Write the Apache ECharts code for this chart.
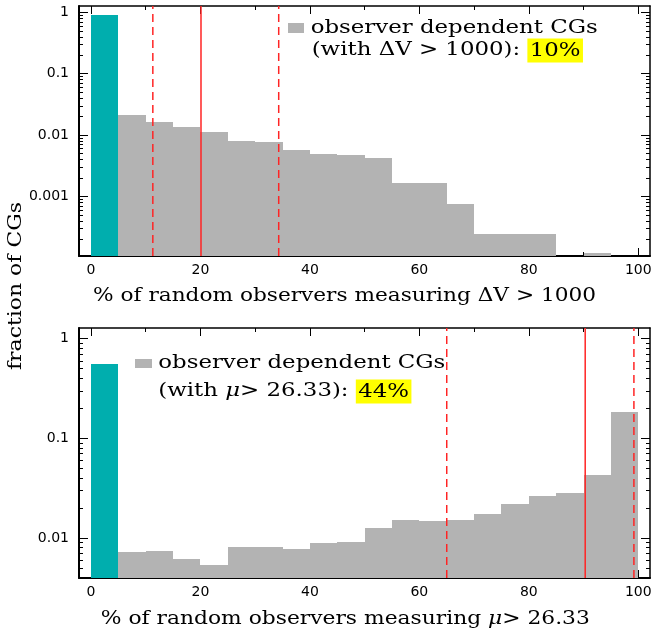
<!DOCTYPE html>
<html><head><meta charset="utf-8">
<script src="https://cdn.jsdelivr.net/npm/echarts@6/dist/echarts.min.js"></script>
<style>html,body{margin:0;padding:0;background:#fff}#c{width:654px;height:635px}</style>
</head><body><div id="c"></div>
<script>
// ---------- data ----------
const binStarts = [0,5,10,15,20,25,30,35,40,45,50,55,60,65,70,75,80,85,90,95];
const binWidth = 5;
// top panel: % of random observers measuring dV > 1000
const dvIndependent = [0.90,null,null,null,null,null,null,null,null,null,null,null,null,null,null,null,null,null,null,null];
const dvDependent = [null,0.0215,0.0163,0.0133,0.0112,0.0080,0.0077,0.0057,0.0050,0.0047,0.0042,0.00167,0.00167,0.00074,0.00024,0.00024,0.00024,null,0.00012,null];
const dvLines = [11.3, 20.1, 34.3];
const dvLineTypes = ['dashed','solid','dashed'];
// bottom panel: % of random observers measuring mu > 26.33
const muIndependent = [0.56,null,null,null,null,null,null,null,null,null,null,null,null,null,null,null,null,null,null,null];
const muDependent = [null,0.0072,0.0074,0.0061,0.0054,0.0082,0.0081,0.0078,0.0088,0.0092,0.0125,0.0150,0.0147,0.0150,0.0172,0.0219,0.0264,0.0281,0.0427,0.184];
const muLines = [65.0, 90.3, 99.2];
const muLineTypes = ['dashed','solid','dashed'];
// ticks
const xLabelTicks = [0,20,40,60,80,100];
const xMinorTicks = [10,30,50,70,90];
const yLabelTicksTop = [0.001,0.01,0.1,1];
const yLabelTicksBot = [0.01,0.1,1];

// ---------- helpers ----------
const chart = echarts.init(document.getElementById('c'), null, {renderer:'canvas'});
const TEAL = '#00AEAE', GRAY = '#B3B3B3', RED = '#FF2424';
const xMin = -2.19, xMax = 102.14;
const yRange = [[1.07e-4, 1.27],[0.00396, 1.28]];
function minorLog(lo, hi){
  const out = [];
  for (let e = -5; e <= 1; e++) {
    for (let m = 2; m <= 9; m++) {
      const v = +(m * Math.pow(10, e)).toPrecision(3);
      if (v > lo && v < hi) out.push(v);
    }
  }
  return out;
}
function majorLog(lo, hi){
  const out=[]; for(let e=-5;e<=1;e++){const v=+Math.pow(10,e).toPrecision(3); if(v>=lo&&v<=hi) out.push(v);} return out;
}
const sansLabel = {color:'#000', fontFamily:'DejaVu Sans', fontSize:14};
function xAxes(g){
  const base = {type:'value', gridIndex:g, min:xMin, max:xMax, splitLine:{show:false}};
  return [
    Object.assign({}, base, {position:'bottom', axisLine:{show:true,onZero:false,lineStyle:{color:'#000',width:2}},
      axisTick:{show:true,inside:true,length:8,customValues:xLabelTicks,lineStyle:{color:'#000',width:1}},
      axisLabel:Object.assign({show:true,margin:7,customValues:xLabelTicks}, sansLabel)}),
    Object.assign({}, base, {position:'bottom', axisLine:{show:false,onZero:false},
      axisTick:{show:true,inside:true,length:4,customValues:xMinorTicks,lineStyle:{color:'#000',width:1}}, axisLabel:{show:false}}),
    Object.assign({}, base, {position:'top', axisLine:{show:true,onZero:false,lineStyle:{color:'#000',width:1.5}},
      axisTick:{show:true,inside:true,length:8,customValues:xLabelTicks,lineStyle:{color:'#000',width:1}}, axisLabel:{show:false}}),
    Object.assign({}, base, {position:'top', axisLine:{show:false,onZero:false},
      axisTick:{show:true,inside:true,length:4,customValues:xMinorTicks,lineStyle:{color:'#000',width:1}}, axisLabel:{show:false}})
  ];
}
function yAxes(g, labels){
  const [lo, hi] = yRange[g];
  const base = {type:'log', logBase:10, gridIndex:g, min:lo, max:hi, splitLine:{show:false}, minorTick:{show:false}};
  const maj = majorLog(lo, hi), mnr = minorLog(lo, hi);
  return [
    Object.assign({}, base, {position:'left', axisLine:{show:true,onZero:false,lineStyle:{color:'#000',width:2}},
      axisTick:{show:true,inside:true,length:9,customValues:maj,lineStyle:{color:'#000',width:1}},
      axisLabel:Object.assign({show:true,margin:10,customValues:labels,formatter:v=>String(v)}, sansLabel)}),
    Object.assign({}, base, {position:'left', axisLine:{show:false,onZero:false},
      axisTick:{show:true,inside:true,length:4,customValues:mnr,lineStyle:{color:'#000',width:1}}, axisLabel:{show:false}}),
    Object.assign({}, base, {position:'right', axisLine:{show:true,onZero:false,lineStyle:{color:'#000',width:1.5}},
      axisTick:{show:true,inside:true,length:9,customValues:maj,lineStyle:{color:'#000',width:1}}, axisLabel:{show:false}}),
    Object.assign({}, base, {position:'right', axisLine:{show:false,onZero:false},
      axisTick:{show:true,inside:true,length:4,customValues:mnr,lineStyle:{color:'#000',width:1}}, axisLabel:{show:false}})
  ];
}
function histData(vals){
  const out=[]; binStarts.forEach((s,i)=>{ if(vals[i]!=null) out.push([s, s+binWidth, vals[i]]); }); return out;
}
function hist(vals, color, g){
  return {type:'custom', xAxisIndex:g*4, yAxisIndex:g*4, data:histData(vals), encode:{x:[0,1], y:2}, z:2, silent:true,
    renderItem(params, api){
      const p0 = api.coord([api.value(0), api.value(2)]);
      const p1 = api.coord([api.value(1), api.value(2)]);
      const cs = params.coordSys;
      const x0 = Math.round(p0[0]), x1 = Math.round(p1[0]), y0 = Math.round(p0[1]);
      return {type:'rect', shape:{x:x0, y:y0, width:x1-x0, height:cs.y+cs.height-y0}, style:{fill:color}};
    }};
}
function vlines(xs, types, g){
  const [lo, hi] = yRange[g];
  return xs.map((x,i)=>({type:'line', xAxisIndex:g*4, yAxisIndex:g*4, data:[[x,lo],[x,hi]], symbol:'none', z:5, silent:true,
    lineStyle:{color:RED, width:1.5, type: types[i]==='dashed' ? [8,5] : 'solid'}}));
}

// ---------- text fitting ----------
const ctx = document.createElement('canvas').getContext('2d');
const FS = 19, SERIF = 'DejaVu Serif';
function tw(t){ ctx.font = FS + 'px "' + SERIF + '"'; return ctx.measureText(t).width; }
const tTop = '% of random observers measuring ΔV > 1000';
const tBot = '% of random observers measuring μ> 26.33';
const tLeg = 'observer dependent CGs';
const tY = 'fraction of CGs';
const sTop = 503 / tw(tTop), sBot = 489 / tw(tBot), sLeg = 287 / tw(tLeg), sY = 168 / tw(tY);
const serifStyle = {fill:'#000', fontFamily:SERIF, fontSize:FS};
const rich = {
  it:{fontFamily:SERIF, fontSize:FS, fontStyle:'italic', fill:'#000'},
  hl:{fontFamily:SERIF, fontSize:FS, backgroundColor:'#FFFF00', padding:[3,2,2,2], fill:'#000'}
};
function txt(x, y, text, sx, align, extra){
  return Object.assign({type:'text', x, y, scaleX:sx, z:10, silent:true,
    style:Object.assign({text, align, verticalAlign:'middle', rich}, serifStyle)}, extra||{});
}

chart.setOption({
  animation:false,
  grid:[
    {left:79, top:6, width:571, height:250, outerBoundsMode:'none', containLabel:false},
    {left:79, top:328, width:571, height:250, outerBoundsMode:'none', containLabel:false}
  ],
  xAxis: xAxes(0).concat(xAxes(1)),
  yAxis: yAxes(0, yLabelTicksTop).concat(yAxes(1, yLabelTicksBot)),
  series: [
    hist(dvIndependent, TEAL, 0), hist(dvDependent, GRAY, 0),
    hist(muIndependent, TEAL, 1), hist(muDependent, GRAY, 1)
  ].concat(vlines(dvLines, dvLineTypes, 0), vlines(muLines, muLineTypes, 1)),
  graphic: [
    {type:'rect', shape:{x:288, y:23, width:16, height:10}, style:{fill:GRAY}, z:10, silent:true},
    txt(310.7, 28, tLeg, sLeg, 'left'),
    txt(311.7, 50.5, '(with ΔV > 1000): {hl|10%}', sLeg, 'left'),
    {type:'rect', shape:{x:135, y:359, width:17, height:9}, style:{fill:GRAY}, z:10, silent:true},
    txt(158.3, 363, tLeg, sLeg, 'left'),
    txt(158.3, 391.5, '(with {it|μ}> 26.33): {hl|44%}', sLeg, 'left'),
    txt(344.5, 296, tTop, sTop, 'center'),
    txt(345.3, 619, '% of random observers measuring {it|μ}> 26.33', sBot, 'center'),
    txt(16, 286, tY, sY, 'center', {rotation:Math.PI/2})
  ]
});
</script></body></html>
